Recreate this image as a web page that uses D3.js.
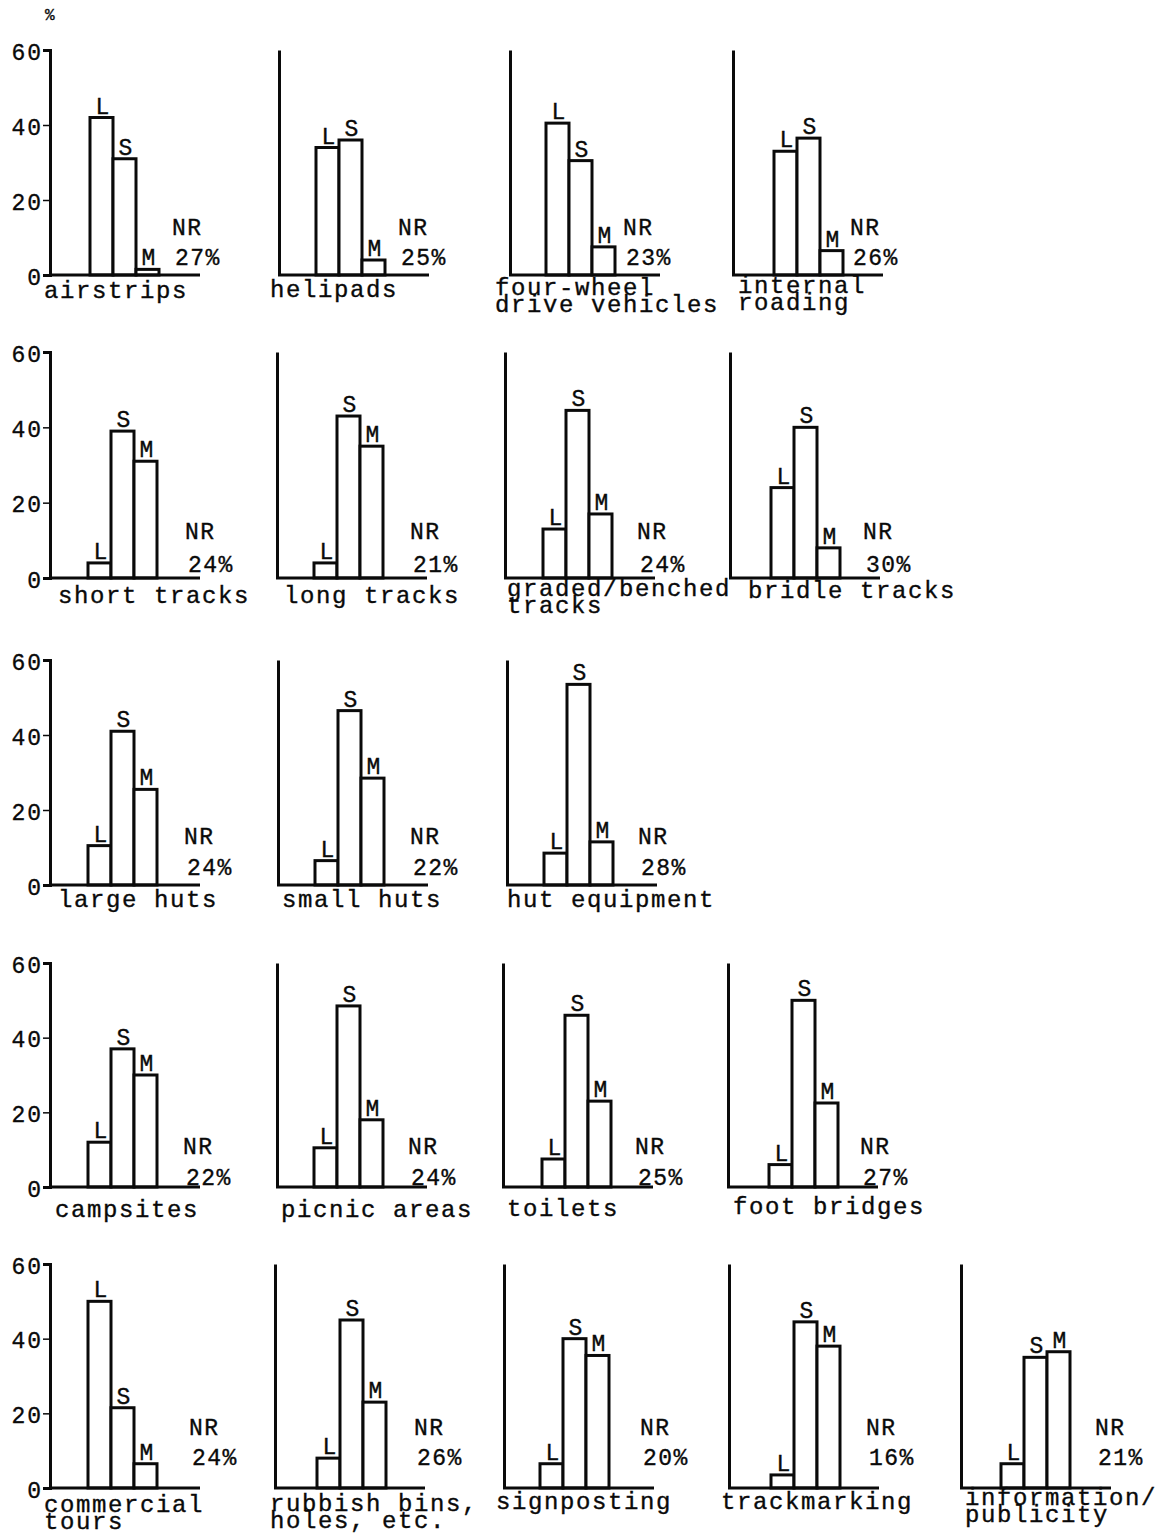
<!DOCTYPE html>
<html>
<head>
<meta charset="utf-8">
<script src="https://cdn.jsdelivr.net/npm/d3@7"></script>
<style>
  html, body { margin: 0; padding: 0; background: #fff; }
  svg { display: block; }
  text { font-family: "Liberation Mono", "DejaVu Sans Mono", monospace; fill: #0a0a0a; stroke: #0a0a0a; stroke-width: 0.35px; }
</style>
</head>
<body>
<svg id="chart" width="1158" height="1535"></svg>
<script>
// ---------------- DATA ----------------
const categories = [
  ["airstrips"], ["helipads"], ["four-wheel", "drive vehicles"], ["internal", "roading"],
  ["short tracks"], ["long tracks"], ["graded/benched", "tracks"], ["bridle tracks"],
  ["large huts"], ["small huts"], ["hut equipment"],
  ["campsites"], ["picnic areas"], ["toilets"], ["foot bridges"],
  ["commercial", "tours"], ["rubbish bins,", "holes, etc."], ["signposting"], ["trackmarking"], ["information/", "publicity"]
];
const seriesNames = ["L", "S", "M"];
const valuesL = [42, 34, 40.5, 33,   4, 4, 13, 24,   10.5, 6.5, 8.5,   12, 10.5, 7.5, 6,   50, 8, 6.5, 3.5, 6.5];
const valuesS = [31, 36, 30.5, 36.5, 39, 43, 44.5, 40, 41, 46.5, 53.5,  37, 48.5, 46, 50,  21.5, 45, 40, 44.5, 35];
const valuesM = [1.5, 4, 7.5, 6.5,   31, 35, 17, 8,   25.5, 28.5, 11.5,  30, 18, 23, 22.5, 6.5, 23, 35.5, 38, 36.5];
const nrValues = [27, 25, 23, 26,   24, 21, 24, 30,   24, 22, 28,   22, 24, 25, 27,   24, 26, 20, 16, 21];
const yTicks = [0, 20, 40, 60];
const unitLabel = "%";

// ---------------- LAYOUT ----------------
const panelsPerRow = [4, 4, 3, 4, 5];
const rowBase = [275, 578, 885, 1187, 1488];
const rowTop  = [50, 352, 660, 963, 1264];
const axisX = [50, 279, 510, 733,  50, 277, 505, 730,  50, 278, 507,  50, 277, 503, 728,  50, 275, 504, 729, 961];
const barOffset = [40, 37, 36, 41,  38, 37, 38, 41,  38, 37, 37,  38, 37, 39, 41,  38, 42, 36, 42, 40];
const titleDx = [-6, -9, -15, 5,  8, 7, 2, 18,  8, 4, 0,  5, 4, 4, 5,  -6, -5, -8, -8, 4];
const titleDy = [23, 22, 20, 18,  25, 25, 18, 20,  22, 22, 22,  30, 30, 29, 27,  24, 23, 21, 21, 17];
const nrDx = [122, 119, 113, 117,  135, 133, 132, 133,  134, 132, 131,  133, 131, 132, 132,  139, 139, 136, 137, 134];
const nrDyRow = [-40, -39, -41, -33, -53];
const pctDyRow = [-10, -6, -10, -2, -23];
const baseLen = 150, bandWidth = 69, stroke = 3, lineGap = 17;

const svg = d3.select("#chart");

svg.append("text").attr("x", 45).attr("y", 20).attr("font-size", 16).text(unitLabel);

let idx = 0;
panelsPerRow.forEach((n, r) => {
  const y = d3.scaleLinear().domain([0, 60]).range([rowBase[r], rowTop[r]]);
  for (let c = 0; c < n; c++, idx++) {
    const i = idx;
    const ax = axisX[i];
    const g = svg.append("g");
    const x = d3.scaleBand().domain(seriesNames)
      .range([ax + barOffset[i], ax + barOffset[i] + bandWidth]).padding(0);
    const vals = [valuesL[i], valuesS[i], valuesM[i]];
    const data = seriesNames.map((s, k) => ({ s, v: vals[k] }));

    // bars
    g.selectAll("rect.bar").data(data).join("rect")
      .attr("class", "bar")
      .attr("x", d => x(d.s))
      .attr("y", d => y(d.v))
      .attr("width", x.bandwidth())
      .attr("height", d => y(0) - y(d.v))
      .attr("fill", "#fff").attr("stroke", "#0a0a0a").attr("stroke-width", stroke);

    // bar labels
    g.selectAll("text.lab").data(data).join("text")
      .attr("class", "lab")
      .attr("x", d => x(d.s) + x.bandwidth() / 2 + 1)
      .attr("y", d => y(d.v) - 4)
      .attr("text-anchor", "middle")
      .attr("font-size", 23)
      .text(d => d.s);

    // y axis
    const axis = d3.axisLeft(y).tickSizeOuter(0);
    if (c === 0) axis.tickValues(yTicks).tickSize(7).tickPadding(0);
    else axis.tickValues([]);
    const ag = g.append("g").attr("transform", `translate(${ax},0)`).call(axis);
    ag.select(".domain").attr("stroke", "#0a0a0a").attr("stroke-width", stroke);
    ag.selectAll(".tick line").attr("stroke", "#0a0a0a").attr("stroke-width", 1.5);
    ag.selectAll(".tick text")
      .attr("font-family", "Liberation Mono, DejaVu Sans Mono, monospace")
      .attr("font-size", 23).attr("letter-spacing", 2).attr("fill", "#0a0a0a")
      .attr("dy", "0.40em");

    // baseline
    g.append("line")
      .attr("x1", ax - 1).attr("x2", ax + baseLen)
      .attr("y1", y(0)).attr("y2", y(0))
      .attr("stroke", "#0a0a0a").attr("stroke-width", stroke);

    // NR labels
    g.append("text").attr("x", ax + nrDx[i]).attr("y", y(0) + nrDyRow[r])
      .attr("font-size", 23).attr("letter-spacing", 1.5).text("NR");
    g.append("text").attr("x", ax + nrDx[i] + 3).attr("y", y(0) + pctDyRow[r])
      .attr("font-size", 23).attr("letter-spacing", 1.5).text(nrValues[i] + "%");

    // title
    const t = g.append("text").attr("font-size", 24).attr("letter-spacing", 1.6);
    categories[i].forEach((line, li) => {
      t.append("tspan").attr("x", ax + titleDx[i]).attr("y", y(0) + titleDy[i] + li * lineGap).text(line);
    });
  }
});
</script>
</body>
</html>
